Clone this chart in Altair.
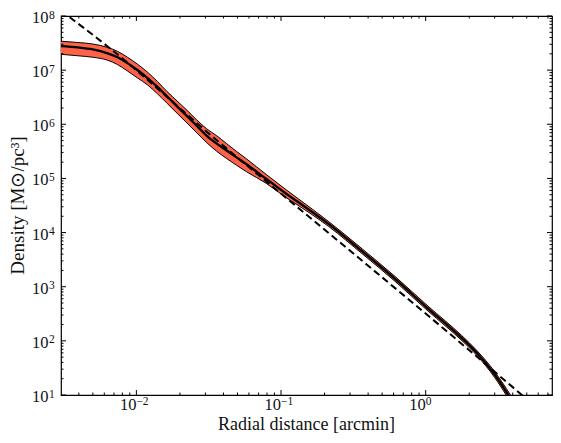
import altair as alt
import pandas as pd

# ---- data ----
radius = [0.003012, 0.003938, 0.004990, 0.006324, 0.007409, 0.008675, 0.010159, 0.011898,
          0.013932, 0.016318, 0.019106, 0.022378, 0.026209, 0.030688, 0.035938, 0.042088,
          0.049285, 0.057715, 0.079157, 0.108565, 0.127116, 0.214091, 0.366397, 0.616715,
          1.0386, 1.7769, 2.2522, 2.9923, 3.6166, 3.9759]
dens_mid = [2.775e7, 2.628e7, 2.417e7, 2.046e7, 1.731e7, 1.348e7, 1.006e7, 7.204e6,
            4.946e6, 3.258e6, 2.145e6, 1.413e6, 9.307e5, 6.132e5, 4.389e5, 3.277e5,
            2.446e5, 1.826e5, 9.761e4, 5.218e4, 3.895e4, 1.430e4, 4.442e3, 1.380e3,
            394.1, 112.6, 60.18, 24.02, 11.32, 7.459]
dens_hi = [3.420e7, 3.238e7, 3.042e7, 2.628e7, 2.224e7, 1.731e7, 1.292e7, 9.252e6,
           6.223e6, 4.013e6, 2.700e6, 1.816e6, 1.196e6, 8.212e5, 6.132e5, 4.389e5,
           3.144e5, 2.297e5, 1.178e5, 6.166e4, 4.507e4, 1.587e4, 4.930e3, 1.531e3,
           437.3, 125.0, 66.79, 27.21, 13.10, 8.812]
dens_lo = [1.962e7, 1.843e7, 1.731e7, 1.527e7, 1.266e7, 9.647e6, 7.204e6, 5.377e6,
           3.693e6, 2.432e6, 1.602e6, 1.055e6, 6.947e5, 4.570e5, 3.170e5, 2.330e5,
           1.750e5, 1.330e5, 8.091e4, 4.414e4, 3.365e4, 1.288e4, 4.000e3, 1.243e3,
           354.9, 101.4, 54.21, 21.18, 9.78, 6.311]

dash_r = [0.003012, 0.006324, 0.035938, 0.23903, 1.5909, 6.0903]
dash_d = [1.253e8, 2.740e7, 5.079e5, 7.640e3, 112.6, 5.34]

x_major = [0.01, 0.1, 1.0]
x_major_exp = ["\u22122", "\u22121", "0"]
x_minor = [k * 10.0 ** e for e in (-3, -2, -1, 0) for k in range(2, 10)
           if 0.003012 < k * 10.0 ** e < 7.47]
y_major = [1e1, 1e2, 1e3, 1e4, 1e5, 1e6, 1e7, 1e8]
y_major_exp = ["1", "2", "3", "4", "5", "6", "7", "8"]
y_minor = [k * 10.0 ** e for e in range(1, 8) for k in range(2, 10)]

x_title = "Radial distance [arcmin]"
y_title = "Density [M\u2299/pc\u00b3]"

# ---- layout ----
W, H = 491, 379
FONT = "Liberation Serif"
TXT = "#111111"
xs = alt.Scale(type="log", domain=[0.003012, 7.47], nice=False)
ys = alt.Scale(type="log", domain=[10, 1e8], nice=False)

band = pd.DataFrame({"r": radius, "mid": dens_mid, "hi": dens_hi, "lo": dens_lo})
dash = pd.DataFrame({"r": dash_r, "d": dash_d})


def X(f):
    return alt.X(f, scale=xs, axis=None)


def Y(f):
    return alt.Y(f, scale=ys, axis=None)


area = alt.Chart(band).mark_area(color="#ff6347", interpolate="monotone", clip=True).encode(
    x=X("r:Q"), y=Y("hi:Q"), y2="lo:Q")
edge_hi = alt.Chart(band).mark_line(color="black", strokeWidth=1, interpolate="monotone", clip=True).encode(
    x=X("r:Q"), y=Y("hi:Q"))
edge_lo = alt.Chart(band).mark_line(color="black", strokeWidth=1, interpolate="monotone", clip=True).encode(
    x=X("r:Q"), y=Y("lo:Q"))
mid = alt.Chart(band).mark_line(color="black", strokeWidth=2.3, interpolate="monotone", clip=True).encode(
    x=X("r:Q"), y=Y("mid:Q"))
dashed = alt.Chart(dash).mark_line(color="black", strokeWidth=2, strokeDash=[7, 4],
                                   interpolate="monotone", clip=True).encode(
    x=X("r:Q"), y=Y("d:Q"))

layers = [area, edge_hi, edge_lo, mid, dashed]


def xticks(vals, length):
    base = alt.Chart(pd.DataFrame({"v": vals})).mark_rule(color="black", strokeWidth=1)
    return [base.encode(x=X("v:Q"), y=alt.value(H), y2=alt.value(H - length)),
            base.encode(x=X("v:Q"), y=alt.value(0), y2=alt.value(length))]


def yticks(vals, length):
    base = alt.Chart(pd.DataFrame({"v": vals})).mark_rule(color="black", strokeWidth=1)
    return [base.encode(y=Y("v:Q"), x=alt.value(0), x2=alt.value(length)),
            base.encode(y=Y("v:Q"), x=alt.value(W), x2=alt.value(W - length))]


layers += xticks(x_major, 5) + xticks(x_minor, 2.5) + yticks(y_major, 5) + yticks(y_minor, 2.5)

# tick labels (mantissa + superscript exponent)
xl = pd.DataFrame({"v": x_major, "e": x_major_exp})
layers.append(alt.Chart(xl).mark_text(align="right", baseline="alphabetic", font=FONT,
                                      fontSize=16.5, color=TXT).encode(
    x=X("v:Q"), y=alt.value(H + 15), text=alt.value("10")))
layers.append(alt.Chart(xl).mark_text(align="left", baseline="alphabetic", font=FONT,
                                      fontSize=11.5, color=TXT).encode(
    x=X("v:Q"), y=alt.value(H + 9.5), text="e:N"))

yl = pd.DataFrame({"v": y_major, "e": y_major_exp})
layers.append(alt.Chart(yl).mark_text(align="right", baseline="alphabetic", font=FONT,
                                      fontSize=16.5, color=TXT, dy=7).encode(
    y=Y("v:Q"), x=alt.value(-12.5), text=alt.value("10")))
layers.append(alt.Chart(yl).mark_text(align="left", baseline="alphabetic", font=FONT,
                                      fontSize=11.5, color=TXT, dy=2.5).encode(
    y=Y("v:Q"), x=alt.value(-12), text="e:N"))

# axis titles
one = pd.DataFrame({"a": [0]})
layers.append(alt.Chart(one).mark_text(align="center", baseline="alphabetic", font=FONT,
                                       fontSize=18, color=TXT, text=x_title).encode(
    x=alt.value(W / 2), y=alt.value(H + 35)))
layers.append(alt.Chart(one).mark_text(align="center", baseline="middle", font=FONT,
                                       fontSize=19, color=TXT, angle=270, text=y_title).encode(
    x=alt.value(-43), y=alt.value(H / 2)))

chart = alt.layer(*layers).properties(
    width=W, height=H,
    autosize=alt.AutoSizeParams(type="none"),
    padding={"left": 53, "top": 8, "right": 1, "bottom": 39},
).configure_view(stroke="black", strokeWidth=1.2)

chart.save("out.html", embed_options={"renderer": "svg", "actions": False})
